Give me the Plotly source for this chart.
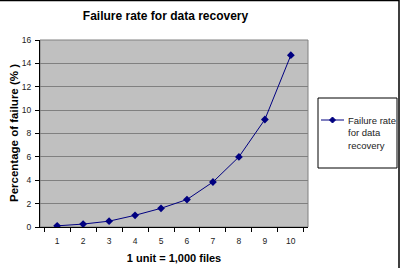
import plotly.graph_objects as go

units = ["1", "2", "3", "4", "5", "6", "7", "8", "9", "10"]
failure_rate = [0.1, 0.25, 0.5, 1.0, 1.6, 2.35, 3.85, 6.0, 9.2, 14.7]
series_name = "Failure rate<br>for data<br>recovery"

W, H = 402, 268
ML, MR, MT, MB = 40, 94, 40, 41
PW, PH = W - ML - MR, H - MT - MB
NAVY = "#000080"

def px(x):
    return (x - ML) / PW

def py(y):
    return (H - MB - y) / PH

fig = go.Figure()
fig.add_trace(go.Scatter(
    x=units, y=failure_rate, mode="lines+markers",
    name=series_name, showlegend=False,
    line=dict(color=NAVY, width=1),
    marker=dict(symbol="diamond", size=6, color=NAVY),
))

# legend drawn manually (box, line sample, diamond, text)
lx, ly = 332.5, 120
d = 3
diamond = (f"M {px(lx)} {py(ly - d)} L {px(lx + d)} {py(ly)} "
           f"L {px(lx)} {py(ly + d)} L {px(lx - d)} {py(ly)} Z")

fig.update_layout(
    width=W, height=H,
    margin=dict(l=ML, r=MR, t=MT, b=MB, autoexpand=False),
    paper_bgcolor="white",
    plot_bgcolor="#c0c0c0",
    font=dict(family="Liberation Sans, Arial", color="black"),
    title=dict(text="<b>Failure rate for data recovery</b>", x=165.5 / W, xref="container",
               xanchor="center", y=1 - 16 / H, yanchor="middle",
               font=dict(size=12)),
    xaxis=dict(type="category", tickson="boundaries", ticks="outside", ticklen=4,
               tickcolor="black", showline=True, linecolor="black", linewidth=1,
               showgrid=False, tickfont=dict(size=8.5, color="#222"), zeroline=False,
               ticklabelstandoff=6,
               title=dict(text="<b>1 unit = 1,000 files</b>", font=dict(size=11), standoff=9)),
    yaxis=dict(range=[0, 16], dtick=2, ticks="outside", ticklen=4, tickcolor="black",
               showline=True, linecolor="black", linewidth=1, showgrid=True,
               gridcolor="#808080", gridwidth=1, tickfont=dict(size=8.5, color="#222"),
               zeroline=False, ticklabelstandoff=2),
    showlegend=False,
    shapes=[
        dict(type="rect", xref="paper", yref="paper", x0=0, x1=1, y0=0, y1=1,
             line=dict(color="#808080", width=1), layer="below"),
        dict(type="rect", xref="paper", yref="paper", x0=px(-5), x1=px(399),
             y0=py(275), y1=py(0.5), line=dict(color="black", width=1.5)),
        dict(type="rect", xref="paper", yref="paper", x0=px(318), x1=px(397),
             y0=py(168), y1=py(98), line=dict(color="black", width=1), fillcolor="white"),
        dict(type="line", xref="paper", yref="paper", x0=px(321), x1=px(344),
             y0=py(ly), y1=py(ly), line=dict(color=NAVY, width=1)),
        dict(type="path", xref="paper", yref="paper", path=diamond,
             fillcolor=NAVY, line=dict(color=NAVY, width=1)),
    ],
    annotations=[
        dict(text=series_name, xref="paper", yref="paper", x=px(346), y=py(113),
             xanchor="left", yanchor="top", align="left", showarrow=False,
             font=dict(size=9.5, color="#222")),
        dict(text="<b>Percentage of failure (% )</b>", xref="paper", yref="paper",
             x=px(14), y=py(133), xanchor="center", yanchor="middle", textangle=-90,
             showarrow=False, font=dict(size=11.5)),
    ],
)

fig.write_html("out.html")
